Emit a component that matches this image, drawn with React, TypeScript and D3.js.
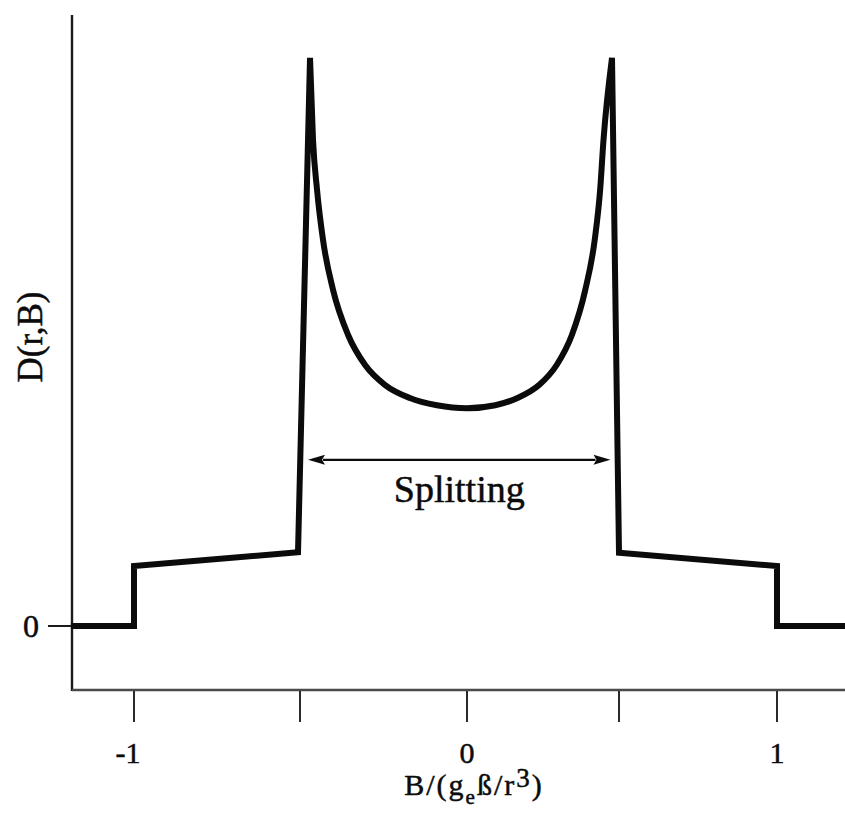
import React from "react";
import * as d3 from "d3";

// Field positions (units of g_e·ß/r³) and the density D(r,B) traced through them
const fieldValues = [
  -1.19, -1, -1, -0.506, -0.47, -0.461, -0.449, -0.431, -0.401, -0.356, -0.305,
  -0.246, -0.171, -0.09, 0, 0.093, 0.166, 0.238, 0.295, 0.345, 0.389, 0.42,
  0.438, 0.449, 0.477, 0.5, 1, 1, 1.25,
];
const densityValues = [
  0, 0, 1, 1.23, 9.47, 8.1, 7.27, 6.43, 5.6, 4.85, 4.35, 4.02, 3.8, 3.68, 3.63,
  3.68, 3.8, 4.02, 4.35, 4.85, 5.6, 6.43, 7.27, 8.1, 9.47, 1.22, 1, 0, 0,
];

// Axis ticks
const xTickValues = [-1, -0.5, 0, 0.5, 1];
const xTickLabels = ["-1", "", "0", "", "1"];
const yTickValues = [0];
const yTickLabels = ["0"];

// Splitting annotation: arrow ends and height
const splittingEnds = [-0.476, 0.472];
const splittingLevel = 2.77;
const splittingLabel = "Splitting";

const W = 845;
const H = 821;
const AXIS_X = 72;
const AXIS_Y = 690;
const SERIF = "'Liberation Serif', 'Times New Roman', Times, serif";
const INK = "#0b0b0b";

export default function App() {
  const x = d3
    .scaleLinear()
    .domain([-1, -0.5, 0, 0.5, 1])
    .range([134, 300, 467, 619, 777]);
  const y = d3.scaleLinear().domain([0, 1]).range([626, 566]);

  const pts: [number, number][] = fieldValues.map((f, i) => [
    x(f),
    y(densityValues[i]),
  ]);

  // The two singular peaks split the trace into outer straight segments
  // and a smooth inner bowl.
  const maxVal = d3.max(densityValues) as number;
  const peakIdx = densityValues
    .map((v, i) => (v === maxVal ? i : -1))
    .filter((i) => i >= 0);
  const p0 = peakIdx[0];
  const p1 = peakIdx[peakIdx.length - 1];

  const straight = d3.line().curve(d3.curveLinear);
  const smooth = d3.line().curve(d3.curveMonotoneX);

  const leftD = straight(pts.slice(0, p0 + 1)) || "";
  const midD = (smooth(pts.slice(p0, p1 + 1)) || "").replace(/^M[^A-Za-z]*/, "");
  const rightD = (straight(pts.slice(p1)) || "").replace(/^M[^A-Za-z]*/, "");
  const traceD = leftD + midD + rightD;

  const ax0 = x(splittingEnds[0]);
  const ax1 = x(splittingEnds[1]);
  const ay = y(splittingLevel);
  const headL = 17;
  const headH = 5;

  const textInk = { fill: INK, stroke: INK, strokeWidth: 0.5 };

  return (
    <svg
      width={W}
      height={H}
      viewBox={`0 0 ${W} ${H}`}
      style={{ position: "absolute", left: 0, top: 0, background: "#fff" }}
    >
      <rect x={0} y={0} width={W} height={H} fill="#fff" />

      {/* axes */}
      <line x1={AXIS_X} y1={15} x2={AXIS_X} y2={AXIS_Y + 1} stroke="#1a1a1a" strokeWidth={2.4} />
      <line x1={AXIS_X} y1={AXIS_Y} x2={W} y2={AXIS_Y} stroke="#4a4a4a" strokeWidth={2.6} />

      {/* x ticks */}
      {xTickValues.map((t, i) => (
        <g key={`xt${i}`}>
          <line
            x1={x(t)}
            x2={x(t)}
            y1={AXIS_Y + 1}
            y2={AXIS_Y + 32}
            stroke="#2a2a2a"
            strokeWidth={2}
          />
          {xTickLabels[i] && (
            <text
              x={x(t) + (t < 0 ? -6 : 0)}
              y={763}
              textAnchor="middle"
              fontFamily={SERIF}
              fontSize={30}
              {...textInk}
            >
              {xTickLabels[i]}
            </text>
          )}
        </g>
      ))}

      {/* y ticks */}
      {yTickValues.map((t, i) => (
        <g key={`yt${i}`}>
          <line x1={48} x2={AXIS_X} y1={y(t)} y2={y(t)} stroke="#1a1a1a" strokeWidth={2} />
          <text
            x={31}
            y={y(t) + 11}
            textAnchor="middle"
            fontFamily={SERIF}
            fontSize={32}
            {...textInk}
          >
            {yTickLabels[i]}
          </text>
        </g>
      ))}

      {/* axis titles */}
      <text
        transform={`translate(42, 337) rotate(-90)`}
        textAnchor="middle"
        fontFamily={SERIF}
        fontSize={35}
        {...textInk}
      >
        D(r,B)
      </text>
      <text
        x={474}
        y={795}
        textAnchor="middle"
        fontFamily={SERIF}
        fontSize={30}
        letterSpacing={2}
        {...textInk}
      >
        B/(g
        <tspan fontSize={21} dy={9}>e</tspan>
        <tspan dy={-9}>ß/r</tspan>
        <tspan fontSize={27} dy={-8}>3</tspan>
        <tspan dy={8}>)</tspan>
      </text>

      {/* density trace */}
      <path
        d={traceD}
        fill="none"
        stroke={INK}
        strokeWidth={6}
        strokeLinejoin="miter"
        strokeMiterlimit={4}
      />

      {/* splitting arrow */}
      <line x1={ax0 + headL - 2} x2={ax1 - headL + 2} y1={ay} y2={ay} stroke={INK} strokeWidth={2.2} />
      <path
        d={`M${ax0},${ay}L${ax0 + headL},${ay - headH}L${ax0 + headL - 3},${ay}L${ax0 + headL},${ay + headH}Z`}
        fill={INK}
      />
      <path
        d={`M${ax1},${ay}L${ax1 - headL},${ay - headH}L${ax1 - headL + 3},${ay}L${ax1 - headL},${ay + headH}Z`}
        fill={INK}
      />
      <text
        x={(ax0 + ax1) / 2}
        y={502}
        textAnchor="middle"
        fontFamily={SERIF}
        fontSize={38}
        {...textInk}
      >
        {splittingLabel}
      </text>
    </svg>
  );
}
